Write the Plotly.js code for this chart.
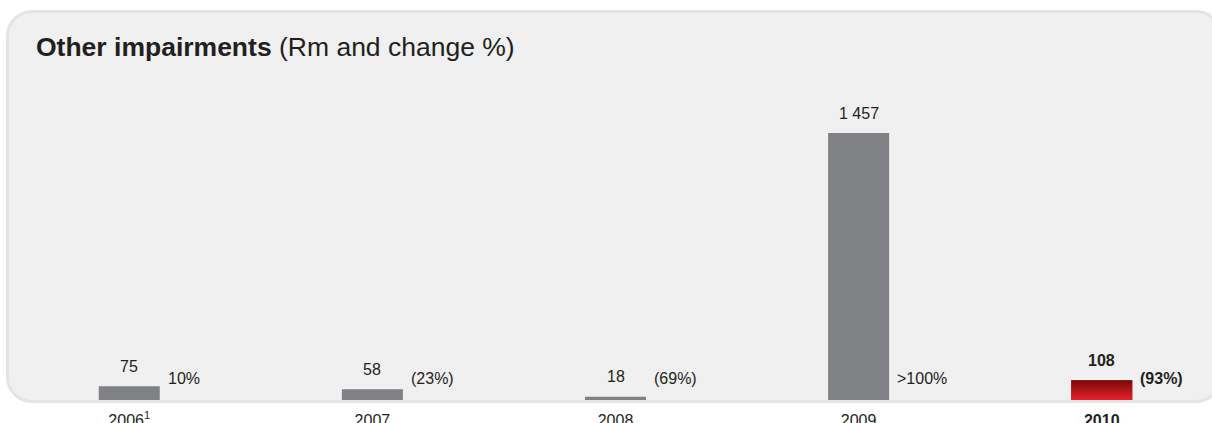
<!DOCTYPE html>
<html>
<head>
<meta charset="utf-8">
<script src="https://cdn.plot.ly/plotly-3.0.1.min.js"></script>
<style>
  html, body { margin: 0; padding: 0; background: #ffffff; }
  #wrap { position: relative; width: 1212px; height: 423px; overflow: hidden; }
  #panel { position: absolute; left: 6px; top: 10px; width: 1216px; height: 393px;
           box-sizing: border-box; border: 3px solid #e3e4e4; border-radius: 26px; background: #eff0ef; }
  #chart { position: absolute; left: 0; top: 0; width: 1212px; height: 423px; }
</style>
</head>
<body>
<div id="wrap">
  <div id="panel"></div>
  <div id="chart"></div>
</div>
<script>
// ---- data ----
const years = ['2006', '2007', '2008', '2009', '2010'];
const yearLabels = ['2006<sup>1</sup>', '2007', '2008', '2009', '<b>2010</b>'];
const values = [75, 58, 18, 1457, 108];
const valueLabels = ['75', '58', '18', '1 457', '<b>108</b>'];
const changeLabels = ['10%', '(23%)', '(69%)', '>100%', '<b>(93%)</b>'];

// ---- styling ----
const grey = '#808184';
const textColor = '#231f20';
const barWidth = 0.251;
const font = 'Liberation Sans, Arial, sans-serif';
const xs = years.map((_, i) => i);
const last = years.length - 1;

const barTrace = {
  type: 'bar',
  x: xs,
  y: values,
  width: barWidth,
  marker: { color: values.map((_, i) => i === last ? '#b01218' : grey), line: { width: 0 } },
  hoverinfo: 'skip',
  showlegend: false
};

// gradient overlay for the highlighted (latest) year
const v = values[last];
const gradTrace = {
  type: 'scatter',
  mode: 'lines',
  x: [last - barWidth / 2, last + barWidth / 2, last + barWidth / 2, last - barWidth / 2, last - barWidth / 2],
  y: [0, 0, v, v, 0],
  line: { width: 0, color: 'rgba(0,0,0,0)' },
  fill: 'toself',
  fillgradient: { type: 'vertical', start: 0, stop: v,
                  colorscale: [[0, '#e8222b'], [1, '#770909']] },
  hoverinfo: 'skip',
  showlegend: false
};

const annotations = [];
xs.forEach((x, i) => {
  annotations.push({
    x: x, y: values[i], xref: 'x', yref: 'y',
    text: valueLabels[i], showarrow: false,
    xanchor: 'center', yanchor: 'middle', yshift: 20,
    font: { family: font, size: 16, color: textColor }
  });
  annotations.push({
    x: x + barWidth / 2, y: 0, xref: 'x', yref: 'y',
    text: changeLabels[i], showarrow: false,
    xanchor: 'left', yanchor: 'middle', xshift: 6, yshift: 22,
    font: { family: font, size: 16, color: textColor }
  });
});

const layout = {
  width: 1212, height: 423,
  margin: { l: 32.3, r: 13.3, t: 60, b: 23, pad: 0 },
  paper_bgcolor: 'rgba(0,0,0,0)',
  plot_bgcolor: 'rgba(0,0,0,0)',
  font: { family: font, color: textColor, size: 16 },
  title: {
    text: '<b>Other impairments</b> (Rm and change %)',
    font: { family: font, size: 26.5, color: textColor },
    x: 36 / 1212, xref: 'container', xanchor: 'left',
    y: 1 - 47 / 423, yref: 'container', yanchor: 'middle'
  },
  xaxis: {
    range: [-0.4, 4.4], tickvals: xs, ticktext: yearLabels,
    showgrid: false, zeroline: false, showline: false, ticks: '',
    ticklabelstandoff: 9,
    tickfont: { family: font, size: 16, color: textColor }, fixedrange: true
  },
  yaxis: {
    range: [0, 1855.4], visible: false, showgrid: false, zeroline: false, fixedrange: true
  },
  annotations: annotations,
  showlegend: false
};

Plotly.newPlot('chart', [barTrace, gradTrace], layout, { displayModeBar: false, staticPlot: true });
</script>
</body>
</html>
